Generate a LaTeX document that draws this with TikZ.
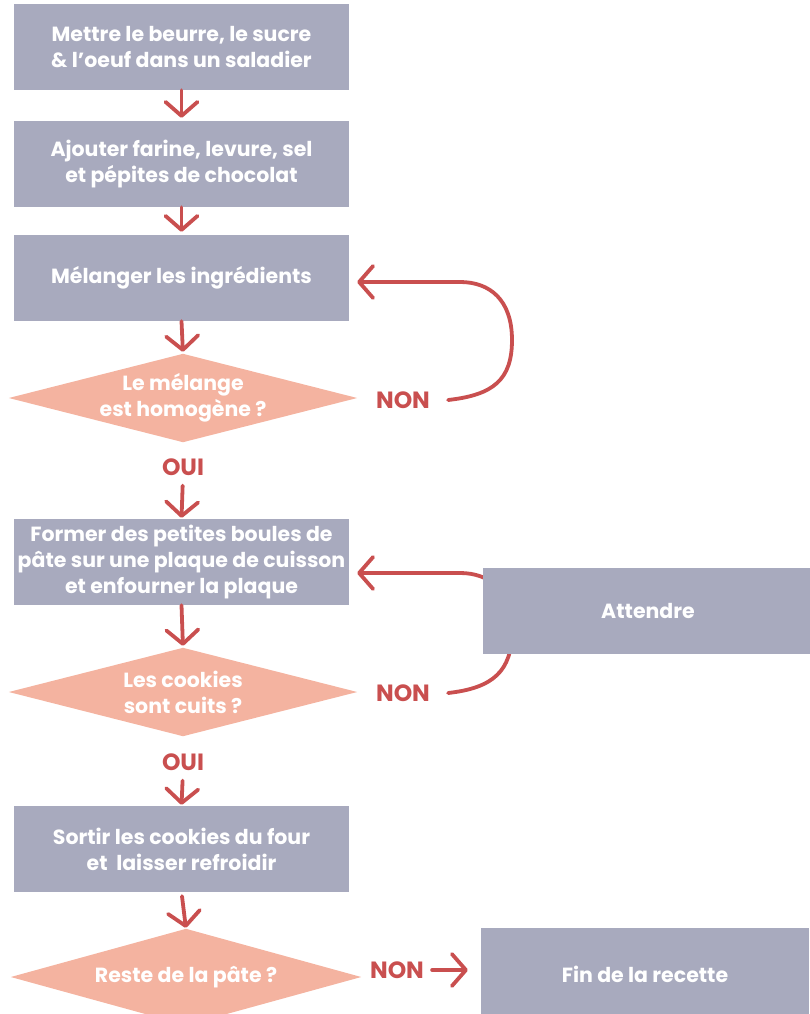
\documentclass[tikz,border=0pt]{standalone}
\usepackage{fontspec}
\setmainfont{Poppins}
\usetikzlibrary{arrows.meta,backgrounds}
\definecolor{boxgray}{HTML}{A8AABE}
\definecolor{salmon}{HTML}{F4B3A0}
\definecolor{redarrow}{HTML}{C94F4F}
\tikzset{
 stepbox/.style={rectangle, fill=boxgray, text=white, minimum width=335pt, minimum height=86pt, inner sep=0pt, align=center, font=\fontsize{20.5}{26}\selectfont\bfseries},
 decision/.style={rectangle, text=white, minimum width=348pt, minimum height=88pt, inner sep=0pt, align=center, font=\fontsize{20.5}{26}\selectfont\bfseries},
 answer/.style={text=redarrow, font=\fontsize{23.5}{26}\selectfont\bfseries, inner sep=0pt},
 flow/.style={draw=redarrow, line width=3.8pt, line cap=round, -{Straight Barb[length=14pt,width=32pt,round]}},
 diafill/.style={fill=salmon},
}
\begin{document}
\begin{tikzpicture}[x=1pt,y=-1pt]
\useasboundingbox (0,0) rectangle (809,1014);
\node[stepbox] (b1) at (181.5,47) {Mettre le beurre, le sucre\\\& l’oeuf dans un saladier};
\node[stepbox] (b2) at (181.5,164) {Ajouter farine, levure, sel\\et pépites de chocolat};
\node[stepbox] (b3) at (181.5,278) {Mélanger les ingrédients};
\node[decision] (d1) at (183,398) {Le mélange\\est homogène ?};
\node[answer] (o1) at (183,467) {OUI};
\node[stepbox] (b4) at (181.5,562) {Former des petites boules de\\pâte sur une plaque de cuisson\\et enfourner la plaque};
\node[decision] (d2) at (183,692) {Les cookies\\sont cuits ?};
\node[answer] (o2) at (183,762) {OUI};
\node[stepbox] (b5) at (181.5,849) {Sortir les cookies du four\\et\ \ laisser refroidir};
\node[decision, minimum width=350pt, minimum height=96pt] (d3) at (186,977) {Reste de la pâte ?};
\node[answer] (n1) at (403,400) {NON};
\node[answer] (n2) at (403,693) {NON};
\node[answer] (n3) at (397,970) {NON};
\node[stepbox, minimum width=330pt] (att) at (648,611) {Attendre};
\node[stepbox, minimum width=328pt, minimum height=92pt] (fin) at (645,974) {Fin de la recette};
\begin{scope}[on background layer]
\foreach \d in {d1,d2,d3}
  \fill[diafill] (\d.north) -- (\d.east) -- (\d.south) -- (\d.west) -- cycle;
\draw[flow] ([xshift=18pt]n1.east) .. controls +(45,-5) and +(0,40) .. (512,340) .. controls +(0,-40) and +(30,0) .. (460,282) -- ([xshift=8pt,yshift=-4pt]b3.east);
\draw[flow] ([xshift=18pt]n2.east) .. controls +(45,-5) and +(0,40) .. (512,631) .. controls +(0,-40) and +(30,0) .. (460,573) -- ([xshift=8pt,yshift=-11pt]b4.east);
\end{scope}
\draw[flow, shorten >=3pt] (b1.south) -- (b2.north);
\draw[flow, shorten >=3pt] (b2.south) -- (b3.north);
\draw[flow, shorten >=2pt] (b3.south) -- (d1.north);
\draw[flow, shorten <=10pt, shorten >=1pt] (o1.south) -- (b4.north);
\draw[flow, shorten >=2pt] (b4.south) -- (d2.north);
\draw[flow, shorten <=10pt, shorten >=1pt] (o2.south) -- (b5.north);
\draw[flow, shorten <=4pt, shorten >=1pt] (b5.south) -- (d3.north);
\draw[flow, shorten <=8pt, shorten >=13pt] (n3.east) -- (fin.west |- n3.east);
\end{tikzpicture}
\end{document}
